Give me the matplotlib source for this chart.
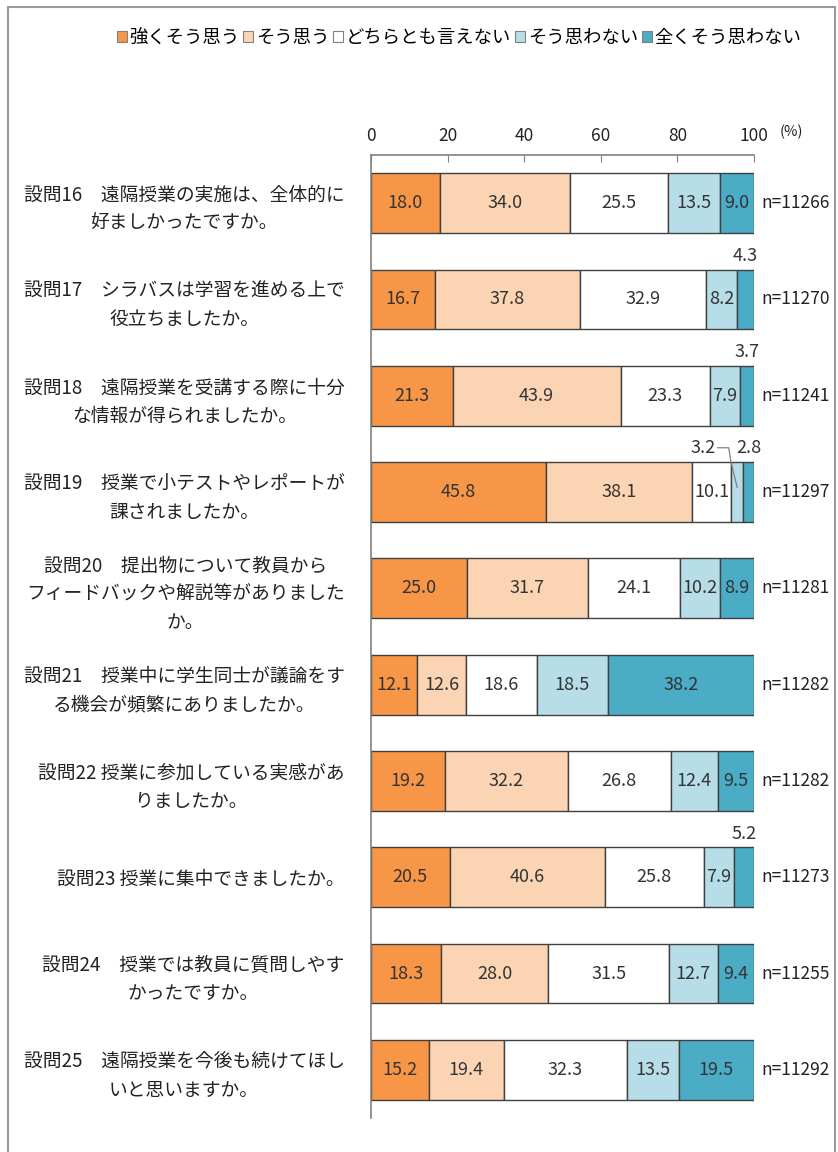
import matplotlib
matplotlib.use('Agg')
import matplotlib.pyplot as plt
from matplotlib.patches import Patch, Rectangle
import numpy as np

plt.rcParams['font.family'] = ['Noto Sans CJK JP', 'DejaVu Sans']

questions = [
    '設問16　遠隔授業の実施は、全体的に\n好ましかったですか。',
    '設問17　シラバスは学習を進める上で\n役立ちましたか。',
    '設問18　遠隔授業を受講する際に十分\nな情報が得られましたか。',
    '設問19　授業で小テストやレポートが\n課されましたか。',
    '設問20　提出物について教員から\nフィードバックや解説等がありました\nか。',
    '設問21　授業中に学生同士が議論をす\nる機会が頻繁にありましたか。',
    '設問22 授業に参加している実感があ\nりましたか。',
    '設問23 授業に集中できましたか。',
    '設問24　授業では教員に質問しやす\nかったですか。',
    '設問25　遠隔授業を今後も続けてほし\nいと思いますか。',
]
n_counts = [11266, 11270, 11241, 11297, 11281, 11282, 11282, 11273, 11255, 11292]

categories = ['強くそう思う', 'そう思う', 'どちらとも言えない', 'そう思わない', '全くそう思わない']
strong_agree = [18.0, 16.7, 21.3, 45.8, 25.0, 12.1, 19.2, 20.5, 18.3, 15.2]
agree = [34.0, 37.8, 43.9, 38.1, 31.7, 12.6, 32.2, 40.6, 28.0, 19.4]
neutral = [25.5, 32.9, 23.3, 10.1, 24.1, 18.6, 26.8, 25.8, 31.5, 32.3]
disagree = [13.5, 8.2, 7.9, 3.2, 10.2, 18.5, 12.4, 7.9, 12.7, 13.5]
strong_disagree = [9.0, 4.3, 3.7, 2.8, 8.9, 38.2, 9.5, 5.2, 9.4, 19.5]

colors = ['#F79646', '#FBD4B4', '#FFFFFF', '#B7DEE8', '#4BACC6']
series = [strong_agree, agree, neutral, disagree, strong_disagree]

fig = plt.figure(figsize=(8.38, 11.52), dpi=100)
ax = fig.add_axes([371 / 838, 1 - 1118 / 1152, 383 / 838, 963 / 1152])

y = np.arange(len(questions))
bar_h = 0.62
left = np.zeros(len(questions))
text_col = '#333333'

for vals, col in zip(series, colors):
    vals = np.array(vals)
    ax.barh(y, vals, left=left, height=bar_h, color=col,
            edgecolor='#404040', linewidth=1.0)
    left += vals

# value labels
for i in range(len(questions)):
    row = [s[i] for s in series]
    starts = np.cumsum([0] + row[:-1])
    small = [k for k in range(len(row)) if row[k] < 6]
    for k, v in enumerate(row):
        cx = starts[k] + v / 2
        if k not in small:
            ax.text(cx, y[i], f'{v:.1f}', ha='center', va='center',
                    fontsize=13, color=text_col)
        elif len(small) > 1 and k == small[0]:
            # label moved left with a leader line
            lx = starts[k] - 4
            ly = y[i] - bar_h / 2 - 0.15
            ax.text(lx, ly, f'{v:.1f}', ha='right', va='center',
                    fontsize=13, color=text_col)
            ax.plot([lx + 0.5, starts[k] - 0.6, starts[k], cx],
                    [ly, ly, y[i] - bar_h / 2, y[i] - 0.05],
                    color='#808080', lw=0.9, zorder=5)
        else:
            ax.text(cx, y[i] - bar_h / 2 - 0.05, f'{v:.1f}', ha='center',
                    va='bottom', fontsize=13, color=text_col)
    ax.text(1.018, y[i], f'n={n_counts[i]}', transform=ax.get_yaxis_transform(),
            ha='left', va='center', fontsize=12.5, color='#222222')

ax.set_xlim(0, 100)
ax.set_ylim(len(questions) - 0.5, -0.5)
ax.set_xticks([0, 20, 40, 60, 80, 100])
ax.xaxis.tick_top()
ax.tick_params(axis='x', direction='in', length=5, pad=7, labelsize=12.5,
               color='#808080', labelcolor='#222222')
ax.set_yticks(y)
ax.set_yticklabels(questions, fontsize=13.5, color='#222222', linespacing=1.45)
ax.tick_params(axis='y', length=0, pad=19)
for lbl in ax.get_yticklabels():
    lbl.set_multialignment('center')

for side in ['right', 'bottom']:
    ax.spines[side].set_visible(False)
for side in ['top', 'left']:
    ax.spines[side].set_color('#808080')
    ax.spines[side].set_linewidth(1.2)

ax.text(1.097, 1.024, '(%)', transform=ax.transAxes, ha='center', va='center',
        fontsize=10.5, color='#222222')

handles = [Patch(facecolor=c, edgecolor='#808080', linewidth=0.8) for c in colors]
fig.legend(handles, categories, loc='center', bbox_to_anchor=(0.548, 0.967),
           ncol=5, frameon=False, fontsize=13.2, handlelength=0.55,
           handleheight=0.55, handletextpad=0.15, columnspacing=0.2)

fig.add_artist(Rectangle((8 / 838, -0.05), (835 - 8) / 838, 1.05 - 7 / 1152,
                         transform=fig.transFigure, fill=False,
                         edgecolor='#9a9a9a', linewidth=1.5))

fig.savefig('out.png', dpi=100)
